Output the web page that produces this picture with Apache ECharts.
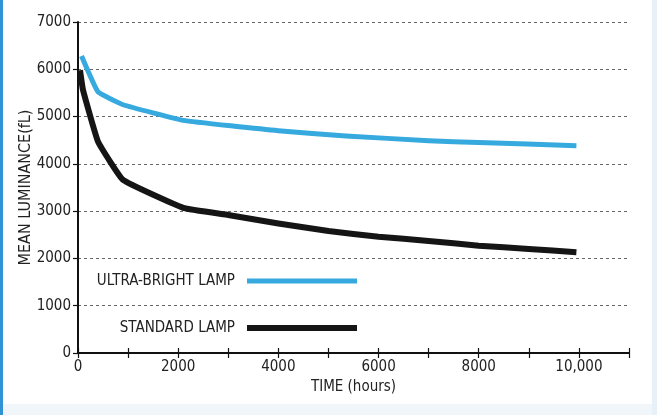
<!DOCTYPE html>
<html>
<head>
<meta charset="utf-8">
<script src="https://cdn.jsdelivr.net/npm/echarts@6/dist/echarts.min.js"></script>
<style>
html,body{margin:0;padding:0;background:#fff;}
#c{width:657px;height:415px;}
</style>
</head>
<body>
<div id="c"></div>
<script>
// Data
var ultraHours = [70, 400, 900, 2100, 4000, 5350, 7000, 8000, 9950];
var ultraLum   = [6280, 5520, 5250, 4920, 4700, 4590, 4490, 4450, 4385];
var stdHours   = [40, 100, 400, 900, 2100, 3000, 4000, 5000, 6000, 7000, 8000, 9000, 9950];
var stdLum     = [5980, 5560, 4470, 3660, 3070, 2920, 2740, 2580, 2460, 2370, 2270, 2200, 2130];
var seriesNames = ['ULTRA-BRIGHT LAMP', 'STANDARD LAMP'];
var xLabels = {0:'0', 2000:'2000', 4000:'4000', 6000:'6000', 8000:'8000', 10000:'10,000'};
var yLabels = {0:'0', 1000:'1000', 2000:'2000', 3000:'3000', 4000:'4000', 5000:'5000', 6000:'6000', 7000:'7000'};
var yAxisTitle = 'MEAN LUMINANCE(fL)';
var xAxisTitle = 'TIME (hours)';

function pairs(xs, ys){ return xs.map(function(x,i){ return [x, ys[i]]; }); }

var FONT = '"Liberation Sans Narrow", "DejaVu Sans Condensed", "Roboto", sans-serif';
var chart = echarts.init(document.getElementById('c'), null, {renderer:'canvas'});
chart.setOption({
  animation:false,
  backgroundColor:'#ffffff',
  textStyle:{fontFamily:FONT},
  grid:{left:78, right:28, top:22, bottom:62, containLabel:false},
  graphic:[
    {type:'rect', shape:{x:0,y:0,width:3,height:415}, style:{fill:'#2f93d6'}, z:100},
    {type:'rect', shape:{x:3,y:404,width:652,height:11}, style:{fill:'#f1f6fb'}, z:-1},
    {type:'rect', shape:{x:652,y:0,width:5,height:415}, style:{fill:'#e9f1f8'}, z:-1}
  ],
  legend:[
    {data:[seriesNames[0]], right:300, top:273, padding:0, align:'right', icon:'rect',
     itemWidth:110, itemHeight:5, selectedMode:false,
     textStyle:{fontFamily:FONT, fontSize:15, color:'#222', lineHeight:16, padding:[0,7,0,0]}},
    {data:[seriesNames[1]], right:300, top:320, padding:0, align:'right', icon:'rect',
     itemWidth:110, itemHeight:6, selectedMode:false,
     textStyle:{fontFamily:FONT, fontSize:15, color:'#222', lineHeight:16, padding:[0,7,0,0]}}
  ],
  xAxis:[
    {type:'value', min:0, max:11000, interval:1000, position:'bottom',
     name:xAxisTitle, nameLocation:'middle', nameGap:24,
     nameTextStyle:{fontFamily:FONT, fontSize:15, color:'#222'},
     axisLine:{show:true, lineStyle:{color:'#111', width:2}},
     axisTick:{show:true, length:5, lineStyle:{color:'#111', width:1.2}},
     axisLabel:{fontFamily:FONT, fontSize:15, color:'#222', margin:7,
       formatter:function(v){ return xLabels.hasOwnProperty(v) ? xLabels[v] : ''; }},
     splitLine:{show:false}},
    {type:'value', min:0, max:11000, interval:1000, position:'bottom',
     axisLine:{show:false},
     axisTick:{show:true, inside:true, length:5, lineStyle:{color:'#111', width:1.2}},
     axisLabel:{show:false}, splitLine:{show:false}}
  ],
  yAxis:{type:'value', min:0, max:7000, interval:1000,
    name:yAxisTitle, nameLocation:'middle', nameGap:44, nameRotate:90, nameMoveOverlap:false,
    nameTextStyle:{fontFamily:FONT, fontSize:16, color:'#222'},
    axisLine:{show:true, lineStyle:{color:'#111', width:2}},
    axisTick:{show:true, length:5, lineStyle:{color:'#111', width:1.2}},
    axisLabel:{fontFamily:FONT, fontSize:15, color:'#222', margin:7,
      formatter:function(v){ return yLabels.hasOwnProperty(v) ? yLabels[v] : String(v); }},
    splitLine:{show:true, lineStyle:{color:'#666', width:1, type:[3,3]}}},
  series:[
    {name:seriesNames[0], type:'line', xAxisIndex:0, data:pairs(ultraHours, ultraLum),
     showSymbol:false, symbol:'none', smooth:0.1,
     lineStyle:{color:'#36a9de', width:5, join:'round', cap:'butt'}, itemStyle:{color:'#36a9de'}, z:3},
    {name:seriesNames[1], type:'line', xAxisIndex:0, data:pairs(stdHours, stdLum),
     showSymbol:false, symbol:'none', smooth:0.1,
     lineStyle:{color:'#151515', width:6, join:'round', cap:'butt'}, itemStyle:{color:'#151515'}, z:4}
  ]
});
</script>
</body>
</html>
